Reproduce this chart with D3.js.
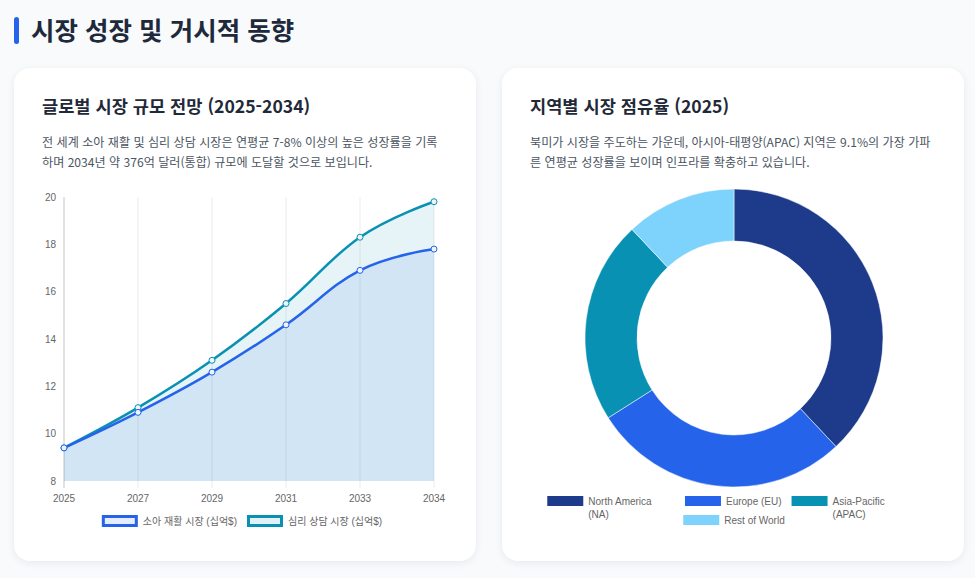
<!DOCTYPE html>
<html lang="ko">
<head>
<meta charset="UTF-8"/>
<title>시장 성장 및 거시적 동향</title>
<script src="https://d3js.org/d3.v7.min.js"></script>
<style>
  body { margin: 0; background: #f8fafc; font-family: "Noto Sans CJK KR", "Noto Sans", sans-serif; width: 975px; height: 578px; overflow: hidden; position: relative; }
  .bar { position: absolute; left: 14px; top: 17px; width: 5px; height: 27px; background: #2563eb; border-radius: 3px; }
  .head { position: absolute; left: 31px; top: 13px; font-size: 25.5px; line-height: 32px; font-weight: 700; color: #1e293b; margin: 0; }
  .card { position: absolute; top: 68px; width: 462px; height: 493px; background: #fff; border-radius: 16px; box-shadow: 0 2px 8px rgba(15,23,42,0.07); }
  .card h3 { position: absolute; left: 28px; top: 25px; margin: 0; font-size: 17.6px; line-height: 26px; font-weight: 700; color: #1f2937; }
  .card p { position: absolute; left: 28px; top: 64px; margin: 0; width: 420px; font-size: 12.1px; line-height: 20px; color: #4b5563; white-space: nowrap; }
  .card svg { position: absolute; left: 0; top: 0; }
  .lbl { font-family: "Liberation Sans", Arial, "Noto Sans CJK KR", sans-serif; font-size: 10px; fill: #666; }
</style>
</head>
<body>
<div class="bar"></div>
<h2 class="head">시장 성장 및 거시적 동향</h2>

<div class="card" id="left" style="left:14px">
  <h3>글로벌 시장 규모 전망 (2025-2034)</h3>
  <p>전 세계 소아 재활 및 심리 상담 시장은 연평균 7-8% 이상의 높은 성장률을 기록<br>하며 2034년 약 376억 달러(통합) 규모에 도달할 것으로 보입니다.</p>
</div>
<div class="card" id="right" style="left:502px">
  <h3>지역별 시장 점유율 (2025)</h3>
  <p>북미가 시장을 주도하는 가운데, 아시아-태평양(APAC) 지역은 9.1%의 가장 가파<br>른 연평균 성장률을 보이며 인프라를 확충하고 있습니다.</p>
</div>

<script>
// ---- data ----
var years = ["2025", "2027", "2029", "2031", "2033", "2034"];
var rehab = [9.4, 10.9, 12.6, 14.6, 16.9, 17.8];      // 소아 재활 시장
var counsel = [9.4, 11.1, 13.1, 15.5, 18.3, 19.8];    // 심리 상담 시장
var seriesNames = ["소아 재활 시장 (십억$)", "심리 상담 시장 (십억$)"];
var yTicks = [8, 10, 12, 14, 16, 18, 20];

var regions = [["North America", "(NA)"], ["Europe (EU)"], ["Asia-Pacific", "(APAC)"], ["Rest of World"]];
var shares = [38, 28, 22, 12];

var w = 462, h = 493;
var lineColors = ["#2563eb", "#0891b2"];
var fillColors = ["rgba(37,99,235,0.1)", "rgba(8,145,178,0.1)"];
var pieColors = ["#1e3a8a", "#2563eb", "#0891b2", "#7dd3fc"];

// ---- line chart ----
var svg = d3.select("#left").append("svg").attr("width", w).attr("height", h);

var xScale = d3.scalePoint().domain(years).range([50, 420]);
var yScale = d3.scaleLinear().domain([8, 20]).range([413, 129]);

// vertical grid
svg.selectAll(".grid")
    .data(years)
    .enter()
    .append("line")
    .attr("x1", function(d) { return xScale(d); })
    .attr("x2", function(d) { return xScale(d); })
    .attr("y1", yScale(20))
    .attr("y2", yScale(8) + 7)
    .attr("stroke", "rgba(0,0,0,0.08)");

// y axis line
svg.append("line")
    .attr("x1", 50).attr("x2", 50)
    .attr("y1", yScale(20)).attr("y2", yScale(8) + 7)
    .attr("stroke", "rgba(0,0,0,0.15)");

svg.selectAll(".ytick")
    .data(yTicks)
    .enter()
    .append("text")
    .attr("class", "lbl")
    .attr("x", 42)
    .attr("y", function(d) { return yScale(d) + 3.5; })
    .attr("text-anchor", "end")
    .text(function(d) { return d; });

svg.selectAll(".xtick")
    .data(years)
    .enter()
    .append("text")
    .attr("class", "lbl")
    .attr("x", function(d) { return xScale(d); })
    .attr("y", 434)
    .attr("text-anchor", "middle")
    .text(function(d) { return d; });

var curve = d3.curveCardinal.tension(-0.2);
var series = [rehab, counsel];

// teal drawn first, blue on top (like chart.js order)
[1, 0].forEach(function(k) {
    var area = d3.area()
        .x(function(d, i) { return xScale(years[i]); })
        .y0(yScale(8))
        .y1(function(d) { return yScale(d); })
        .curve(curve);
    svg.append("path").datum(series[k]).attr("d", area).attr("fill", fillColors[k]);
});

[1, 0].forEach(function(k) {
    var line = d3.line()
        .x(function(d, i) { return xScale(years[i]); })
        .y(function(d) { return yScale(d); })
        .curve(curve);
    svg.append("path").datum(series[k]).attr("d", line)
        .attr("fill", "none").attr("stroke", lineColors[k]).attr("stroke-width", 2.5);
    svg.selectAll(".pt" + k)
        .data(series[k])
        .enter()
        .append("circle")
        .attr("cx", function(d, i) { return xScale(years[i]); })
        .attr("cy", function(d) { return yScale(d); })
        .attr("r", 3)
        .attr("fill", "#eef4fb")
        .attr("stroke", lineColors[k])
        .attr("stroke-width", 1);
});

// legend (chart.js-like flow, centered)
function drawLegend(g, labels, colors, fills, boxH, strokeW, topY, maxW, centerX) {
    var items = labels.map(function(lab, i) {
        var t = g.append("text").attr("class", "lbl").text(lab.join(","));
        var tw = t.node().getComputedTextLength();
        t.remove();
        return { lab: lab, i: i, width: 36 + 5 + tw };
    });
    var rows = [[]], rw = 0;
    items.forEach(function(it) {
        if (rw + it.width + 10 > maxW && rows[rows.length - 1].length) { rows.push([]); rw = 0; }
        rows[rows.length - 1].push(it);
        rw += it.width + 10;
    });
    rows.forEach(function(row, r) {
        var total = d3.sum(row, function(d) { return d.width; }) + 10 * (row.length - 1);
        var x = centerX - total / 2;
        var y = topY + r * 19;
        row.forEach(function(it) {
            g.append("rect")
                .attr("x", x + strokeW / 2).attr("y", y + strokeW / 2)
                .attr("width", 36 - strokeW).attr("height", boxH - strokeW)
                .attr("fill", fills[it.i]).attr("stroke", colors[it.i]).attr("stroke-width", strokeW);
            it.lab.forEach(function(line, j) {
                g.append("text").attr("class", "lbl")
                    .attr("x", x + 41).attr("y", y + boxH / 2 + 3.5 + j * 13)
                    .text(line);
            });
            x += it.width + 10;
        });
    });
}

drawLegend(svg.append("g"), seriesNames.map(function(s) { return [s]; }),
    lineColors, ["rgba(37,99,235,0.12)", "rgba(8,145,178,0.12)"], 12, 3, 447, 406, w / 2 - 3);

// ---- donut ----
var svg2 = d3.select("#right").append("svg").attr("width", w).attr("height", h);
var pie = d3.pie().sort(null).value(function(d) { return d; });
var arc = d3.arc().innerRadius(97).outerRadius(149);

svg2.append("g")
    .attr("transform", "translate(232,270)")
    .selectAll("path")
    .data(pie(shares))
    .enter()
    .append("path")
    .attr("d", arc)
    .attr("fill", function(d, i) { return pieColors[i]; })
    .attr("stroke", "#fff")
    .attr("stroke-width", 0.5);

drawLegend(svg2.append("g"), regions, pieColors, pieColors, 10, 0, 428, 406, 232);
</script>
</body>
</html>
